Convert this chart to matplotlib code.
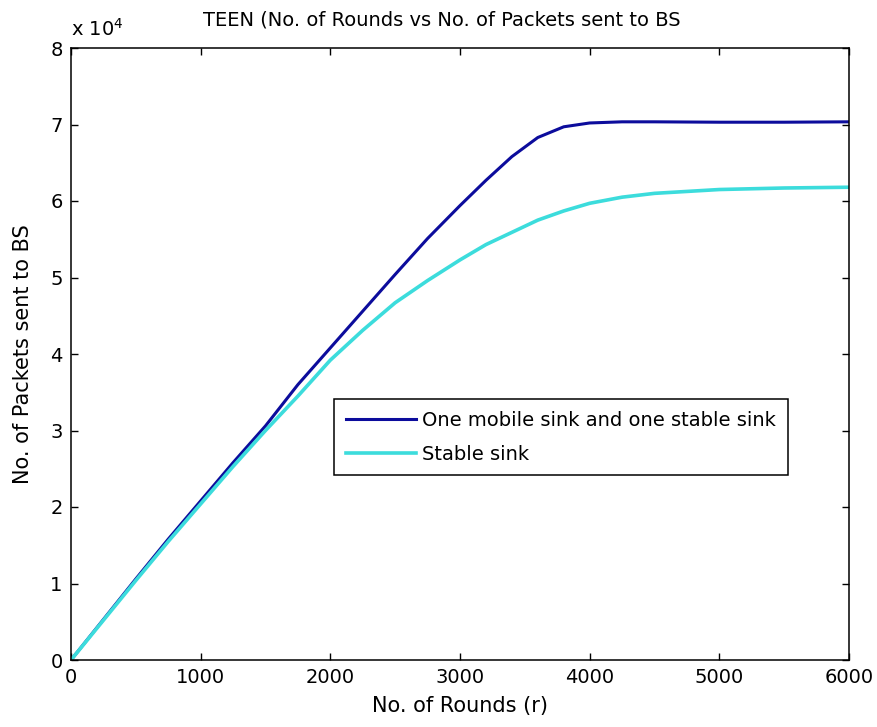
import numpy as np
import matplotlib
matplotlib.use('Agg')
import matplotlib.pyplot as plt

# rounds and cumulative packets received by the base station
rounds = [0, 250, 500, 750, 1000, 1250, 1500, 1750, 2000, 2250, 2500, 2750,
          3000, 3200, 3400, 3600, 3800, 4000, 4250, 4500, 5000, 5500, 6000]
mobile_sink = [0, 5300, 10600, 15800, 20800, 25800, 30600, 36000, 40800, 45600,
               50400, 55100, 59400, 62700, 65800, 68300, 69700, 70200, 70350,
               70350, 70300, 70300, 70350]
stable_sink = [0, 5200, 10400, 15500, 20400, 25300, 30000, 34500, 39200, 43100,
               46700, 49600, 52300, 54300, 55900, 57500, 58700, 59700, 60500,
               61000, 61500, 61700, 61800]
labels = ['One mobile sink and one stable sink', 'Stable sink']

font_size = 14
plt.rcParams['font.family'] = ['DejaVu Sans']

fig = plt.figure(figsize=(8.78, 7.27), dpi=100)
ax = fig.add_axes([71/878, 1 - 660/727, 778/878, 612/727])

ax.plot(rounds, mobile_sink, color='#0c0c9c', linewidth=2.2, label=labels[0])
ax.plot(rounds, stable_sink, color='#3cdcdc', linewidth=2.6, label=labels[1])

ax.set_xlim(0, 6000)
ax.set_ylim(0, 80000)
ax.set_xticks(np.arange(0, 6001, 1000))
ax.set_yticks(np.arange(0, 80001, 10000))
ax.set_yticklabels([str(i) for i in range(9)])

ax.tick_params(direction='in', length=5, top=True, right=True,
               labelsize=font_size, width=1, pad=6)
for s in ax.spines.values():
    s.set_linewidth(1.1)

ax.text(0.0, 1.014, r'x 10$^4$', transform=ax.transAxes, fontsize=font_size,
        ha='left', va='bottom')

ax.text(0.477, 1.03, 'TEEN (No. of Rounds vs No. of Packets sent to BS',
        transform=ax.transAxes, fontsize=font_size, ha='center', va='bottom')
ax.set_xlabel('No. of Rounds (r)', fontsize=font_size + 1, labelpad=6)
ax.set_ylabel('No. of Packets sent to BS', fontsize=font_size + 1, labelpad=12)

leg = ax.legend(loc='upper left', bbox_to_anchor=(0.338, 0.426),
                fontsize=font_size, fancybox=False, edgecolor='black',
                framealpha=1, handlelength=3.6, handletextpad=0.35,
                borderaxespad=0, borderpad=0.6, labelspacing=0.75)
leg.get_frame().set_linewidth(1.1)

plt.savefig('out.png', dpi=100)
